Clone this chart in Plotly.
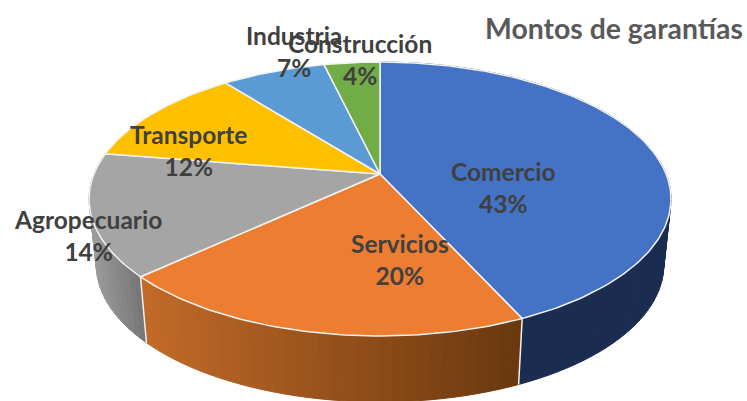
import math
import plotly.graph_objects as go

categories = ["Comercio", "Servicios", "Agropecuario", "Transporte", "Industria", "Construcción"]
values = [43.2, 19.9, 14.4, 11.9, 6.9, 3.7]
top_colors = ["#4472C4", "#ED7D31", "#A5A5A5", "#FFC000", "#5B9BD5", "#70AD47"]
title_text = "Montos de garantías"

# wall shade (left-most x colour, right-most x colour) per slice
wall_colors = [("#1A2C50", "#1A2C50"), ("#C26A28", "#69380F"), ("#9C9C9C", "#757575"),
               ("#997300", "#997300"), ("#2E75B6", "#2E75B6"), ("#43682B", "#43682B")]
label_pos = [(503, 187), (400, 259), (88, 235), (188, 150), (294, 51), (360, 59)]

CX, CY = 380.0, 174.0
K, A, B = 0.1825, 286.1, 132.4
DEPTH, SHRINK = 66.0, 0.975


def rim(theta):
    u, v = math.sin(theta), math.cos(theta)
    w = 1 + K * v
    return CX + A * u / w, CY - B * v / w


def base(theta):
    x, y = rim(theta)
    return CX + SHRINK * (x - CX), y + DEPTH


def hexmix(c1, c2, t):
    a = [int(c1[i:i + 2], 16) for i in (1, 3, 5)]
    b = [int(c2[i:i + 2], 16) for i in (1, 3, 5)]
    return "#%02x%02x%02x" % tuple(round(p + (q - p) * t) for p, q in zip(a, b))


total = sum(values)
edges = [0.0]
for v in values:
    edges.append(edges[-1] + v / total * 2 * math.pi)

fig = go.Figure()


def poly(xs, ys, fill, line=None, width=1.0):
    fig.add_trace(go.Scatter(x=xs, y=ys, mode="lines", fill="toself", fillcolor=fill,
                             line=dict(color=line or fill, width=width),
                             hoverinfo="skip", showlegend=False))


# side wall
for i in range(3):
    t0, t1 = edges[i], edges[i + 1]
    n = max(8, int((t1 - t0) / math.radians(2)))
    xa, xb = min(rim(t0 + (t1 - t0) * j / n)[0] for j in range(n + 1)), max(rim(t0 + (t1 - t0) * j / n)[0] for j in range(n + 1))
    for j in range(n):
        a = t0 + (t1 - t0) * j / n
        b = t0 + (t1 - t0) * (j + 1) / n
        r0, r1, b1, b0 = rim(a), rim(b), base(b), base(a)
        s = ((r0[0] + r1[0]) / 2 - xa) / (xb - xa)
        c = hexmix(wall_colors[i][0], wall_colors[i][1], s)
        poly([r0[0], r1[0], b1[0], b0[0], r0[0]], [r0[1], r1[1], b1[1], b0[1], r0[1]], c)

# vertical separators on the wall
for i in (1, 2):
    r, b = rim(edges[i]), base(edges[i])
    fig.add_trace(go.Scatter(x=[r[0], b[0]], y=[r[1], b[1]], mode="lines",
                             line=dict(color="#F4EFE8", width=1.5), hoverinfo="skip", showlegend=False))

# top face
for i in range(len(values)):
    t0, t1 = edges[i], edges[i + 1]
    n = max(6, int((t1 - t0) / math.radians(1)))
    pts = [rim(t0 + (t1 - t0) * j / n) for j in range(n + 1)]
    xs = [CX] + [p[0] for p in pts] + [CX]
    ys = [CY] + [p[1] for p in pts] + [CY]
    poly(xs, ys, top_colors[i], "#F2F2F2", 1.5)

annotations = [dict(x=p[0], y=p[1], xref="x", yref="y", text=f"{c}<br>{round(v)}%", showarrow=False,
                    align="center", xanchor="center", yanchor="middle",
                    font=dict(family="Lato", size=24.5, color="#404040", weight="bold"))
               for c, v, p in zip(categories, values, label_pos)]
annotations.append(dict(x=483, y=28, xref="x", yref="y", text=title_text, showarrow=False,
                        xanchor="left", yanchor="middle",
                        font=dict(family="Lato", size=28.4, color="#595959", weight="bold")))

fig.update_layout(width=747, height=401, margin=dict(l=0, r=0, t=0, b=0),
                  paper_bgcolor="white", plot_bgcolor="white", annotations=annotations,
                  xaxis=dict(range=[0, 747], visible=False, fixedrange=True),
                  yaxis=dict(range=[401, 0], visible=False, fixedrange=True))

fig.write_html("out.html", config=dict(displayModeBar=False),
               post_script="document.body.style.margin='0';")
